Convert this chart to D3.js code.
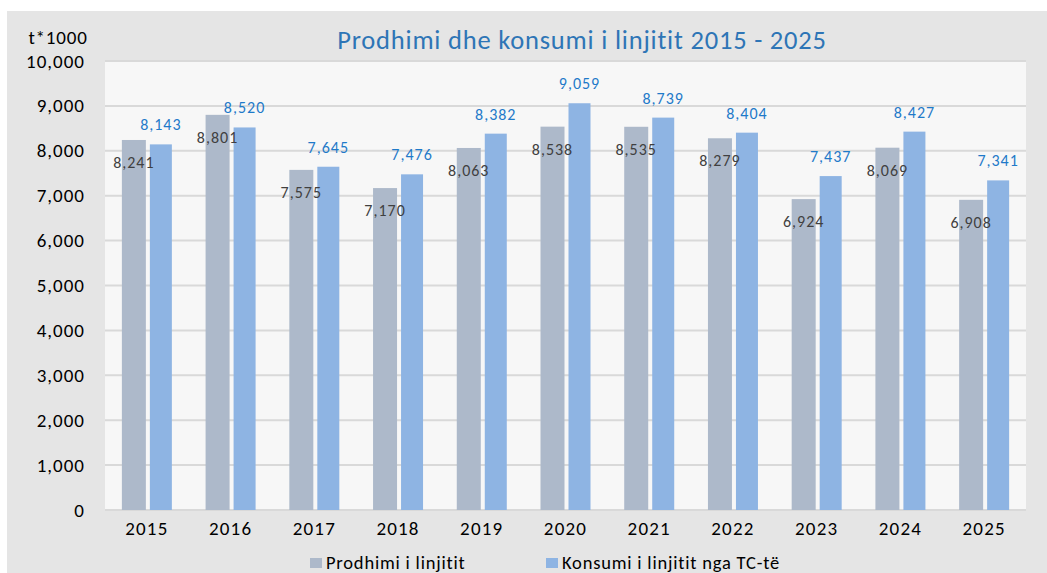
<!DOCTYPE html>
<html>
<head>
<meta charset="utf-8">
<script src="https://cdn.jsdelivr.net/npm/d3@7"></script>
<style>
  body { margin: 0; background: #ffffff; }
  text { font-family: Carlito, Lato, sans-serif; }
</style>
</head>
<body>
<script>
// chart data
var years = ["2015", "2016", "2017", "2018", "2019", "2020", "2021", "2022", "2023", "2024", "2025"];
var prodhimi = [8241, 8801, 7575, 7170, 8063, 8538, 8535, 8279, 6924, 8069, 6908];
var konsumi = [8143, 8520, 7645, 7476, 8382, 9059, 8739, 8404, 7437, 8427, 7341];
var yTicks = [0, 1000, 2000, 3000, 4000, 5000, 6000, 7000, 8000, 9000, 10000];
var seriesNames = ["Prodhimi i linjitit", "Konsumi i linjitit nga TC-të"];

var width = 1047, height = 573;
var plot = { left: 105, right: 1026, top: 61, bottom: 510 };

var svg = d3.select("body").append("svg")
    .attr("width", width)
    .attr("height", height);

// outer grey panel
svg.append("rect")
    .attr("x", 7).attr("y", 11)
    .attr("width", width - 7).attr("height", height - 11)
    .attr("fill", "#e5e5e5");

// plot background
svg.append("rect")
    .attr("x", plot.left).attr("y", plot.top)
    .attr("width", plot.right - plot.left).attr("height", plot.bottom - plot.top)
    .attr("fill", "#f7f7f7");

var x = d3.scaleBand()
    .domain(years)
    .range([plot.left, plot.right]);

var y = d3.scaleLinear()
    .domain([0, 10000])
    .range([plot.bottom, plot.top]);

// gridlines
svg.selectAll(".grid")
    .data(yTicks)
    .enter()
    .append("line")
    .attr("x1", plot.left).attr("x2", plot.right)
    .attr("y1", function(d) { return y(d); })
    .attr("y2", function(d) { return y(d); })
    .style("stroke", "#d9d9d9")
    .style("stroke-width", 2);

// y axis labels
svg.selectAll(".ytick")
    .data(yTicks)
    .enter()
    .append("text")
    .attr("x", 85)
    .attr("y", function(d) { return y(d) + 6.5; })
    .attr("text-anchor", "end")
    .style("font-size", "19px")
    .style("font-weight", 300)
    .style("letter-spacing", "1px")
    .style("fill", "#000")
    .text(function(d) { return d3.format(",")(d); });

svg.append("text")
    .attr("x", 58).attr("y", 44)
    .attr("text-anchor", "middle")
    .style("font-size", "19px")
    .style("font-weight", 300)
    .style("letter-spacing", "0.8px")
    .style("fill", "#000")
    .text("t*1000");

// x axis labels
svg.selectAll(".xtick")
    .data(years)
    .enter()
    .append("text")
    .attr("x", function(d) { return x(d) + x.bandwidth() / 2; })
    .attr("y", 535)
    .attr("text-anchor", "middle")
    .style("font-size", "19px")
    .style("font-weight", 300)
    .style("letter-spacing", "1.2px")
    .style("fill", "#000")
    .text(function(d) { return d; });

// bars
var greyW = 24, blueW = 22, gap = 4;
function greyX(i) { return x(years[i]) + x.bandwidth() / 2 - (greyW + gap + blueW) / 2; }
function blueX(i) { return greyX(i) + greyW + gap; }

svg.selectAll(".bar-p")
    .data(prodhimi)
    .enter()
    .append("rect")
    .attr("x", function(d, i) { return greyX(i); })
    .attr("y", function(d) { return y(d); })
    .attr("width", greyW)
    .attr("height", function(d) { return plot.bottom - y(d); })
    .attr("fill", "#adb9ca");

svg.selectAll(".bar-k")
    .data(konsumi)
    .enter()
    .append("rect")
    .attr("x", function(d, i) { return blueX(i); })
    .attr("y", function(d) { return y(d); })
    .attr("width", blueW)
    .attr("height", function(d) { return plot.bottom - y(d); })
    .attr("fill", "#8eb4e3");

// value labels
svg.selectAll(".lbl-p")
    .data(prodhimi)
    .enter()
    .append("text")
    .attr("x", function(d, i) { return greyX(i) + greyW / 2; })
    .attr("y", function(d) { return y(d) + 28; })
    .attr("text-anchor", "middle")
    .style("font-size", "16px")
    .style("letter-spacing", "1px")
    .style("fill", "#404040")
    .text(function(d) { return d3.format(",")(d); });

svg.selectAll(".lbl-k")
    .data(konsumi)
    .enter()
    .append("text")
    .attr("x", function(d, i) { return blueX(i) + blueW / 2; })
    .attr("y", function(d) { return y(d) - 14; })
    .attr("text-anchor", "middle")
    .style("font-size", "16px")
    .style("letter-spacing", "1px")
    .style("fill", "#1f7ac9")
    .text(function(d) { return d3.format(",")(d); });

// title
svg.append("text")
    .attr("x", 582).attr("y", 49)
    .attr("text-anchor", "middle")
    .style("font-size", "26.5px")
    .style("letter-spacing", "0.8px")
    .style("fill", "#2e75b6")
    .text("Prodhimi dhe konsumi i linjitit 2015 - 2025");

// legend
var legendX = [310, 546];
var legendColors = ["#adb9ca", "#8eb4e3"];
seriesNames.forEach(function(name, i) {
    svg.append("rect")
        .attr("x", legendX[i]).attr("y", 558)
        .attr("width", 12).attr("height", 10)
        .attr("fill", legendColors[i]);
    svg.append("text")
        .attr("x", legendX[i] + 16).attr("y", 569)
        .style("font-size", "18.5px")
        .style("letter-spacing", "0.8px")
        .style("fill", "#000")
        .text(name);
});
</script>
</body>
</html>
